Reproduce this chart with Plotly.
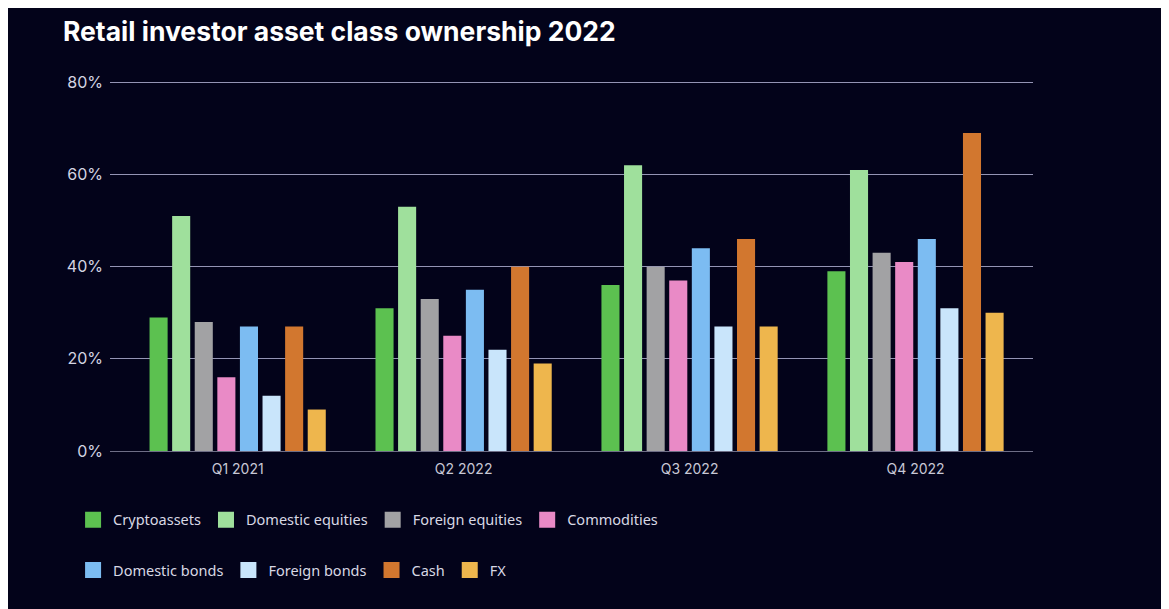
import plotly.graph_objects as go

categories = ["Q1 2021", "Q2 2022", "Q3 2022", "Q4 2022"]
series_names = ["Cryptoassets", "Domestic equities", "Foreign equities", "Commodities",
                "Domestic bonds", "Foreign bonds", "Cash", "FX"]
cryptoassets = [29, 31, 36, 39]
domestic_equities = [51, 53, 62, 61]
foreign_equities = [28, 33, 40, 43]
commodities = [16, 25, 37, 41]
domestic_bonds = [27, 35, 44, 46]
foreign_bonds = [12, 22, 27, 31]
cash = [27, 40, 46, 69]
fx = [9, 19, 27, 30]
y_ticks = [0, 20, 40, 60, 80]
y_tick_labels = ["0%", "20%", "40%", "60%", "80%"]

values = [cryptoassets, domestic_equities, foreign_equities, commodities,
          domestic_bonds, foreign_bonds, cash, fx]
colors = ["#5cc150", "#9fe09c", "#a2a2a4", "#e98ac6",
          "#7cbcf2", "#c9e5fb", "#d2772f", "#eeb64d"]

BG = "#03031a"
W, H = 1161, 601  # page body has an 8px margin

fig = go.Figure()
for name, vals, col in zip(series_names, values, colors):
    fig.add_trace(go.Bar(x=categories, y=vals, name=name, marker=dict(color=col, line=dict(width=0)),
                         legendgroup=name, showlegend=False))
for i, (name, col) in enumerate(zip(series_names, colors)):
    fig.add_trace(go.Scatter(x=[None], y=[None], mode="markers", name=name, legendgroup=name,
                             marker=dict(symbol="square", size=17, color=col),
                             showlegend=True, legend="legend" if i < 4 else "legend2"))

legend_common = dict(orientation="h", xanchor="left", yanchor="middle",
                     bgcolor="rgba(0,0,0,0)",
                     font=dict(family="Noto Sans, sans-serif", size=14.5, color="#d8d8e4"),
                     itemclick=False, itemdoubleclick=False, tracegroupgap=0)

fig.update_layout(
    width=W, height=H,
    paper_bgcolor=BG, plot_bgcolor=BG,
    margin=dict(l=102, r=136, t=73, b=158, pad=0),
    barmode="group", bargap=0.2, bargroupgap=0.2,
    title=dict(text="Retail investor asset class ownership 2022", xref="container", yref="container",
               x=55/W, y=1-24/H, xanchor="left", yanchor="middle",
               font=dict(family="Inter, sans-serif", size=26.5, color="#ffffff", weight=700)),
    xaxis=dict(range=[-0.565, 3.52], showgrid=False, showline=False, ticks="",
               ticklabelstandoff=8,
               tickfont=dict(family="Inter, sans-serif", size=14, color="#c8c8d6")),
    yaxis=dict(range=[0, 80.3], tickvals=y_ticks, ticktext=y_tick_labels, showgrid=True,
               gridcolor="#9494b4", gridwidth=1, zeroline=True, zerolinecolor="#6e6e86",
               zerolinewidth=1, showline=False, ticks="", ticklabelstandoff=6,
               tickfont=dict(family="Inter, sans-serif", size=16, color="#d4d4e2")),
    legend=dict(x=-0.04, y=-0.186, **legend_common),
    legend2=dict(x=-0.04, y=-0.322, **legend_common),
    showlegend=True,
)

fig.write_html("out.html")
